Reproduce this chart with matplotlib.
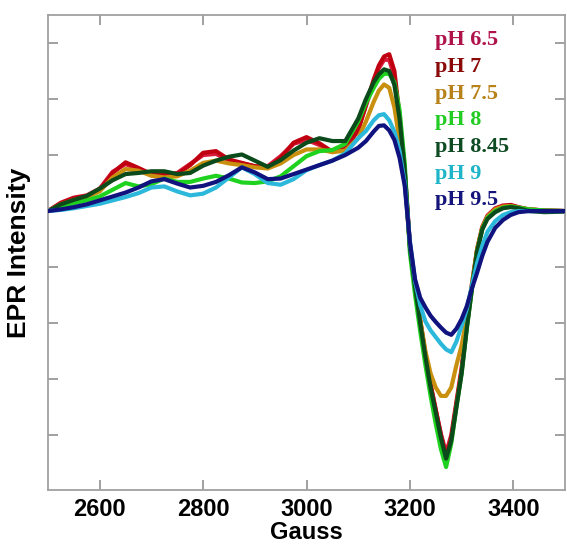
import matplotlib
matplotlib.use("Agg")
import matplotlib.pyplot as plt

field = [2500, 2525, 2550, 2575, 2600, 2625, 2650, 2675, 2700, 2725, 2750, 2775, 2800,
         2825, 2850, 2875, 2900, 2925, 2950, 2975, 3000, 3025, 3050, 3075, 3100, 3115,
         3130, 3140, 3150, 3160, 3170, 3180, 3190, 3200, 3210, 3220, 3230, 3240, 3250,
         3260, 3270, 3280, 3290, 3300, 3310, 3320, 3330, 3340, 3350, 3365, 3380, 3395,
         3410, 3430, 3460, 3500]

ph65 = [0, 0.15, 0.24, 0.28, 0.40, 0.70, 0.84, 0.74, 0.64, 0.65, 0.68, 0.84, 1.00,
        1.02, 0.90, 0.85, 0.80, 0.80, 0.98, 1.20, 1.27, 1.18, 1.06, 1.12, 1.45, 1.88,
        2.30, 2.55, 2.70, 2.70, 2.40, 1.60, 0.65, -0.62, -1.32, -1.97, -2.57, -3.10, -3.55,
        -3.98, -4.32, -4.00, -3.40, -2.80, -2.00, -1.30, -0.68, -0.28, -0.08, 0.05, 0.10, 0.10,
        0.06, 0.03, 0.01, 0]

ph7 = [0, 0.14, 0.23, 0.26, 0.37, 0.68, 0.87, 0.77, 0.66, 0.64, 0.66, 0.82, 1.04,
       1.07, 0.92, 0.86, 0.80, 0.77, 0.95, 1.22, 1.32, 1.21, 1.06, 1.10, 1.45, 1.90,
       2.35, 2.60, 2.76, 2.80, 2.50, 1.70, 0.73, -0.60, -1.30, -1.95, -2.55, -3.10, -3.55,
       -4.00, -4.40, -4.05, -3.45, -2.85, -2.05, -1.35, -0.70, -0.30, -0.10, 0.03, 0.09, 0.11,
       0.07, 0.03, 0.01, 0]

ph75 = [0, 0.12, 0.20, 0.25, 0.35, 0.60, 0.75, 0.72, 0.63, 0.60, 0.62, 0.72, 0.86,
        0.90, 0.85, 0.82, 0.78, 0.76, 0.85, 1.00, 1.10, 1.10, 1.05, 1.08, 1.30, 1.60,
        1.95, 2.15, 2.26, 2.20, 1.85, 1.25, 0.55, -0.62, -1.30, -1.95, -2.50, -2.90, -3.15,
        -3.30, -3.30, -3.15, -2.75, -2.40, -1.90, -1.30, -0.68, -0.30, -0.10, 0.03, 0.08, 0.09,
        0.06, 0.03, 0.01, 0]

ph8 = [0, 0.08, 0.14, 0.19, 0.26, 0.38, 0.50, 0.44, 0.48, 0.58, 0.52, 0.52, 0.58,
       0.63, 0.58, 0.51, 0.50, 0.53, 0.62, 0.80, 0.98, 1.07, 1.09, 1.20, 1.60, 1.93,
       2.20, 2.36, 2.45, 2.45, 2.30, 1.80, 0.85, -0.75, -1.50, -2.15, -2.75, -3.30, -3.80,
       -4.25, -4.57, -4.15, -3.50, -2.90, -2.10, -1.40, -0.72, -0.32, -0.12, 0.00, 0.06, 0.08,
       0.06, 0.03, 0.01, 0]

ph845 = [0, 0.12, 0.20, 0.27, 0.40, 0.55, 0.66, 0.68, 0.71, 0.71, 0.66, 0.68, 0.81,
         0.90, 0.97, 1.01, 0.90, 0.79, 0.91, 1.08, 1.22, 1.30, 1.25, 1.25, 1.65, 2.00,
         2.30, 2.44, 2.53, 2.50, 2.25, 1.65, 0.73, -0.65, -1.35, -2.00, -2.60, -3.15, -3.60,
         -4.05, -4.42, -4.10, -3.50, -2.90, -2.10, -1.38, -0.72, -0.33, -0.14, -0.02, 0.05, 0.07,
         0.05, 0.00, -0.02, -0.01]

ph9 = [0, 0.02, 0.05, 0.09, 0.13, 0.19, 0.25, 0.32, 0.42, 0.44, 0.35, 0.28, 0.31,
       0.42, 0.60, 0.78, 0.66, 0.50, 0.47, 0.57, 0.73, 0.82, 0.90, 1.03, 1.30, 1.43,
       1.62, 1.71, 1.73, 1.62, 1.42, 1.07, 0.50, -0.55, -1.25, -1.68, -1.97, -2.13, -2.25,
       -2.37, -2.47, -2.52, -2.33, -2.05, -1.75, -1.33, -0.93, -0.62, -0.37, -0.18, -0.07, -0.02,
       0.00, 0.00, 0.00, 0]

ph95 = [0, 0.03, 0.07, 0.12, 0.19, 0.26, 0.33, 0.42, 0.53, 0.57, 0.49, 0.42, 0.45,
        0.52, 0.64, 0.78, 0.69, 0.57, 0.58, 0.66, 0.74, 0.82, 0.90, 1.00, 1.13, 1.25,
        1.42, 1.52, 1.53, 1.44, 1.27, 0.95, 0.45, -0.55, -1.22, -1.55, -1.72, -1.87, -1.98,
        -2.08, -2.17, -2.21, -2.10, -1.93, -1.70, -1.38, -1.10, -0.80, -0.55, -0.30, -0.16, -0.07,
        -0.02, 0.00, 0.00, 0]

labels = ["pH 6.5", "pH 7", "pH 7.5", "pH 8", "pH 8.45", "pH 9", "pH 9.5"]
series = [ph65, ph7, ph75, ph8, ph845, ph9, ph95]
line_colors = ["#D81B3C", "#C00010", "#C8900E", "#1FD21F", "#0B4A1A", "#2BB8DA", "#10127E"]
text_colors = ["#B0124A", "#8A0A0A", "#B8821A", "#22CC22", "#0E4A22", "#1FB5C8", "#14147A"]
draw_order = [0, 1, 2, 3, 5, 4, 6]

x_ticks = [2600, 2800, 3000, 3200, 3400]
y_ticks = [-4, -3, -2, -1, 0, 1, 2, 3]

fig = plt.figure(figsize=(5.67, 5.5), dpi=100)
ax = fig.add_axes([48 / 567, 1 - 490 / 550, 517 / 567, 475 / 550])

for i in draw_order:
    ax.plot(field, series[i], color=line_colors[i], lw=3.0, solid_joinstyle="round",
            solid_capstyle="round", zorder=2 + i * 0.1)

ax.set_xlim(2500, 3500)
ax.set_ylim(-4.98, 3.5)
ax.set_xticks(x_ticks)
ax.set_yticks(y_ticks)
ax.set_yticklabels([])
ax.tick_params(direction="in", top=True, right=True, length=7, width=1.2,
               color="#909090", pad=6)
for lab in ax.get_xticklabels():
    lab.set_fontfamily("Liberation Sans")
    lab.set_fontweight("bold")
    lab.set_fontsize(17)
for s in ax.spines.values():
    s.set_color("#A0A0A0")
    s.set_linewidth(1.3)

ax.set_xlabel("Gauss", fontfamily="Liberation Sans", fontweight="bold", fontsize=17,
              labelpad=0)
ax.set_ylabel("EPR Intensity", fontfamily="Liberation Sans", fontweight="bold",
              fontsize=19, labelpad=6)

for k, (lab, c) in enumerate(zip(labels, text_colors)):
    ax.text(0.748, 0.947 - k * 0.0562, lab, transform=ax.transAxes, color=c,
            fontfamily="Liberation Serif", fontweight="bold", fontsize=16,
            va="center", ha="left", zorder=10)

fig.savefig("out.png", dpi=100)
